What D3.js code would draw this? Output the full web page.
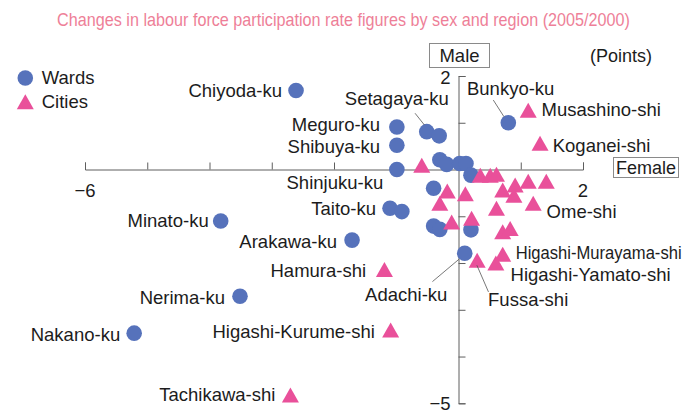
<!DOCTYPE html>
<html><head><meta charset="utf-8">
<script src="https://cdn.jsdelivr.net/npm/d3@7"></script>
<style>
html,body{margin:0;padding:0;background:#fff;}
svg{display:block;font-family:"Liberation Sans",Arial,Helvetica,sans-serif;}
</style></head>
<body>
<svg id="chart" width="685" height="414"></svg>
<script>
// ---- data ----
const subtitle = "Changes in labour force participation rate figures by sex and region (2005/2000)";
const xTickValues = [-6,-5,-4,-3,-2,-1,0,1,2];
const yTickValues = [-5,-4,-3,-2,-1,0,1,2];
const xTickLabels = [{v:-6,t:"\u22126"},{v:2,t:"2"}];
const yTickLabels = [{v:2,t:"2"},{v:-5,t:"\u22125"}];

const wardNames = ["Chiyoda-ku","Bunkyo-ku","Meguro-ku","Setagaya-ku","","Shibuya-ku","Shinjuku-ku","","","","","","","Taito-ku","","Minato-ku","Arakawa-ku","","","","Adachi-ku","Nerima-ku","Nakano-ku"];
const wardFemale = [-2.61,0.80,-0.99,-0.51,-0.31,-0.99,-0.99,-0.30,-0.19,0.02,0.12,0.20,-0.40,-1.10,-0.91,-3.82,-1.71,-0.40,-0.30,0.20,0.10,-3.51,-5.21];
const wardMale   = [1.69,1.00,0.91,0.81,0.72,0.52,0.00,0.21,0.11,0.13,0.13,-0.12,-0.40,-0.83,-0.90,-1.10,-1.51,-1.21,-1.28,-1.29,-1.79,-2.71,-3.50];

const cityNames = ["Musashino-shi","Koganei-shi","","","","","","","","","","","","","","Ome-shi","","","","","Fussa-shi","Higashi-Murayama-shi","Higashi-Yamato-shi","Hamura-shi","Higashi-Kurume-shi","Tachikawa-shi"];
const cityFemale = [1.12,1.31,-0.59,0.35,0.51,0.61,0.71,0.91,0.89,1.12,1.41,-0.18,0.11,-0.30,0.61,1.20,-0.11,0.21,0.71,0.83,0.30,0.71,0.60,-1.19,-1.09,-2.70];
const cityMale   = [1.27,0.56,0.09,-0.12,-0.12,-0.10,-0.44,-0.33,-0.55,-0.25,-0.25,-0.46,-0.52,-0.72,-0.83,-0.72,-1.12,-1.04,-1.33,-1.26,-1.94,-1.81,-2.00,-2.14,-3.43,-4.82];

// ---- layout / style ----
const BLUE = "#5672bb", PINK = "#e9509a", SUB = "#ee7f98", AXIS = "#5e5e5e", TXT = "#1c1c1c";
const FS = 18.5;
// label placement relative to the point: [dx, dy, anchor, targetWidth?]
const labelLayout = {
  "Chiyoda-ku":[-14,0,"end"], "Setagaya-ku":[-30,-33.4,"middle"], "Meguro-ku":[-16.7,-2,"end"],
  "Shibuya-ku":[-16.7,1,"end"], "Shinjuku-ku":[-13.7,13,"end"], "Taito-ku":[-14,0,"end"],
  "Minato-ku":[-12,0,"end"], "Arakawa-ku":[-15,1.7,"end"], "Nerima-ku":[-15,1.3,"end"],
  "Nakano-ku":[-14,1.7,"end"], "Bunkyo-ku":[2.4,-34.4,"middle"], "Adachi-ku":[-58.5,41.7,"middle"],
  "Musashino-shi":[13.4,-0.7,"start"], "Koganei-shi":[12.7,1.7,"start"], "Ome-shi":[13.4,8.4,"start"],
  "Higashi-Murayama-shi":[13,-1.3,"start",166], "Higashi-Yamato-shi":[14.7,11.3,"start"],
  "Fussa-shi":[51,39.3,"middle"], "Hamura-shi":[-18.3,1.2,"end"], "Higashi-Kurume-shi":[-15.7,1.7,"end"],
  "Tachikawa-shi":[-15,-0.7,"end"]
};
const leaderLayout = {
  "Setagaya-ku":[-11.7,-18.4,-2.4,-6.7], "Bunkyo-ku":[-15,-22.7,-4.3,-6],
  "Adachi-ku":[-32.3,28.4,-5.7,6], "Fussa-shi":[-0.3,5,11.3,31.7]
};

const svg = d3.select("#chart");
const x = d3.scaleLinear().domain([-6,2]).range([85,583]);
const y = d3.scaleLinear().domain([-5,2]).range([403.3,76]);

// horizontally squeeze a text element to a target width (keeps real text)
function squeeze(sel, cx, cy, target, anchor){
  const node = sel.node();
  const w = node.getComputedTextLength();
  const k = Math.min(1, target / w);
  sel.attr("x",0).attr("y",0).attr("text-anchor",anchor)
     .attr("transform",`translate(${cx},${cy}) scale(${k},1)`);
}

// subtitle
const sub = svg.append("text").attr("dy","0.35em")
  .attr("font-family","'Liberation Sans Narrow','Arial Narrow','Liberation Sans',sans-serif")
  .attr("font-size",18).attr("fill",SUB).text(subtitle);
squeeze(sub, 343.5, 19.5, 573, "middle");

// axes
const xAxis = svg.append("g").attr("transform",`translate(0,${y(0)})`)
  .call(d3.axisTop(x).tickValues(xTickValues).tickSize(7).tickSizeOuter(7).tickFormat(""));
const yAxis = svg.append("g").attr("transform",`translate(${x(0)},0)`)
  .call(d3.axisRight(y).tickValues(yTickValues).tickSize(7).tickSizeOuter(7).tickFormat(""));
[xAxis,yAxis].forEach(g=>{ g.selectAll("path,line").attr("stroke",AXIS).attr("stroke-width",1); });

svg.selectAll(".xtl").data(xTickLabels).join("text").attr("class","xtl")
  .attr("x",d=>x(d.v)).attr("y",y(0)+21).attr("dy","0.35em").attr("text-anchor","middle")
  .attr("font-size",FS).attr("fill",TXT).text(d=>d.t);
svg.selectAll(".ytl").data(yTickLabels).join("text").attr("class","ytl")
  .attr("x",x(0)-8).attr("y",d=>Math.min(y(d.v)+2, 403.5)).attr("dy","0.35em").attr("text-anchor","end")
  .attr("font-size",FS).attr("fill",TXT).text(d=>d.t);

// axis titles
svg.append("rect").attr("x",429.5).attr("y",43.5).attr("width",60).attr("height",24)
  .attr("fill","#fff").attr("stroke","#8a8a8a");
svg.append("text").attr("x",459.5).attr("y",55.5).attr("dy","0.35em").attr("text-anchor","middle")
  .attr("font-size",FS).attr("fill",TXT).text("Male");
svg.append("text").attr("x",590).attr("y",56).attr("dy","0.35em")
  .attr("font-size",18).attr("fill",TXT).text("(Points)");
svg.append("rect").attr("x",613.5).attr("y",157.5).attr("width",65).attr("height",20)
  .attr("fill","#fff").attr("stroke","#8a8a8a");
svg.append("text").attr("x",646).attr("y",167.5).attr("dy","0.35em").attr("text-anchor","middle")
  .attr("font-size",18).attr("fill",TXT).text("Female");

// legend
const tri = (w,h)=>`M0,${-h/2}L${w/2},${h/2}L${-w/2},${h/2}Z`;
svg.append("circle").attr("cx",25.3).attr("cy",78).attr("r",7.8).attr("fill",BLUE);
svg.append("text").attr("x",41.7).attr("y",78).attr("dy","0.35em").attr("font-size",FS).attr("fill",TXT).text("Wards");
svg.append("path").attr("d",tri(17,15)).attr("transform","translate(25.3,101.7)").attr("fill",PINK);
svg.append("text").attr("x",41.7).attr("y",102).attr("dy","0.35em").attr("font-size",FS).attr("fill",TXT).text("Cities");

// points
const wards = wardNames.map((n,i)=>({name:n,fx:wardFemale[i],my:wardMale[i]}));
const cities = cityNames.map((n,i)=>({name:n,fx:cityFemale[i],my:cityMale[i]}));

svg.append("g").selectAll("circle").data(wards).join("circle")
  .attr("cx",d=>x(d.fx)).attr("cy",d=>y(d.my)).attr("r",7.8).attr("fill",BLUE);
svg.append("g").selectAll("path").data(cities).join("path")
  .attr("d",tri(17,15)).attr("transform",d=>`translate(${x(d.fx)},${y(d.my)})`).attr("fill",PINK);

// leaders + labels
const labeled = wards.concat(cities).filter(d=>d.name && labelLayout[d.name]);
svg.append("g").selectAll("line").data(labeled.filter(d=>leaderLayout[d.name])).join("line")
  .attr("x1",d=>x(d.fx)+leaderLayout[d.name][0]).attr("y1",d=>y(d.my)+leaderLayout[d.name][1])
  .attr("x2",d=>x(d.fx)+leaderLayout[d.name][2]).attr("y2",d=>y(d.my)+leaderLayout[d.name][3])
  .attr("stroke","#555").attr("stroke-width",0.8);
svg.append("g").selectAll("text").data(labeled).join("text")
  .attr("x",d=>x(d.fx)+labelLayout[d.name][0]).attr("y",d=>y(d.my)+labelLayout[d.name][1])
  .attr("dy","0.35em").attr("text-anchor",d=>labelLayout[d.name][2])
  .attr("font-size",FS).attr("fill",TXT)
  .text(d=>d.name)
  .each(function(d){
    const L = labelLayout[d.name];
    if (L[3]) squeeze(d3.select(this), x(d.fx)+L[0], y(d.my)+L[1], L[3], L[2]);
  });
</script>
</body></html>
